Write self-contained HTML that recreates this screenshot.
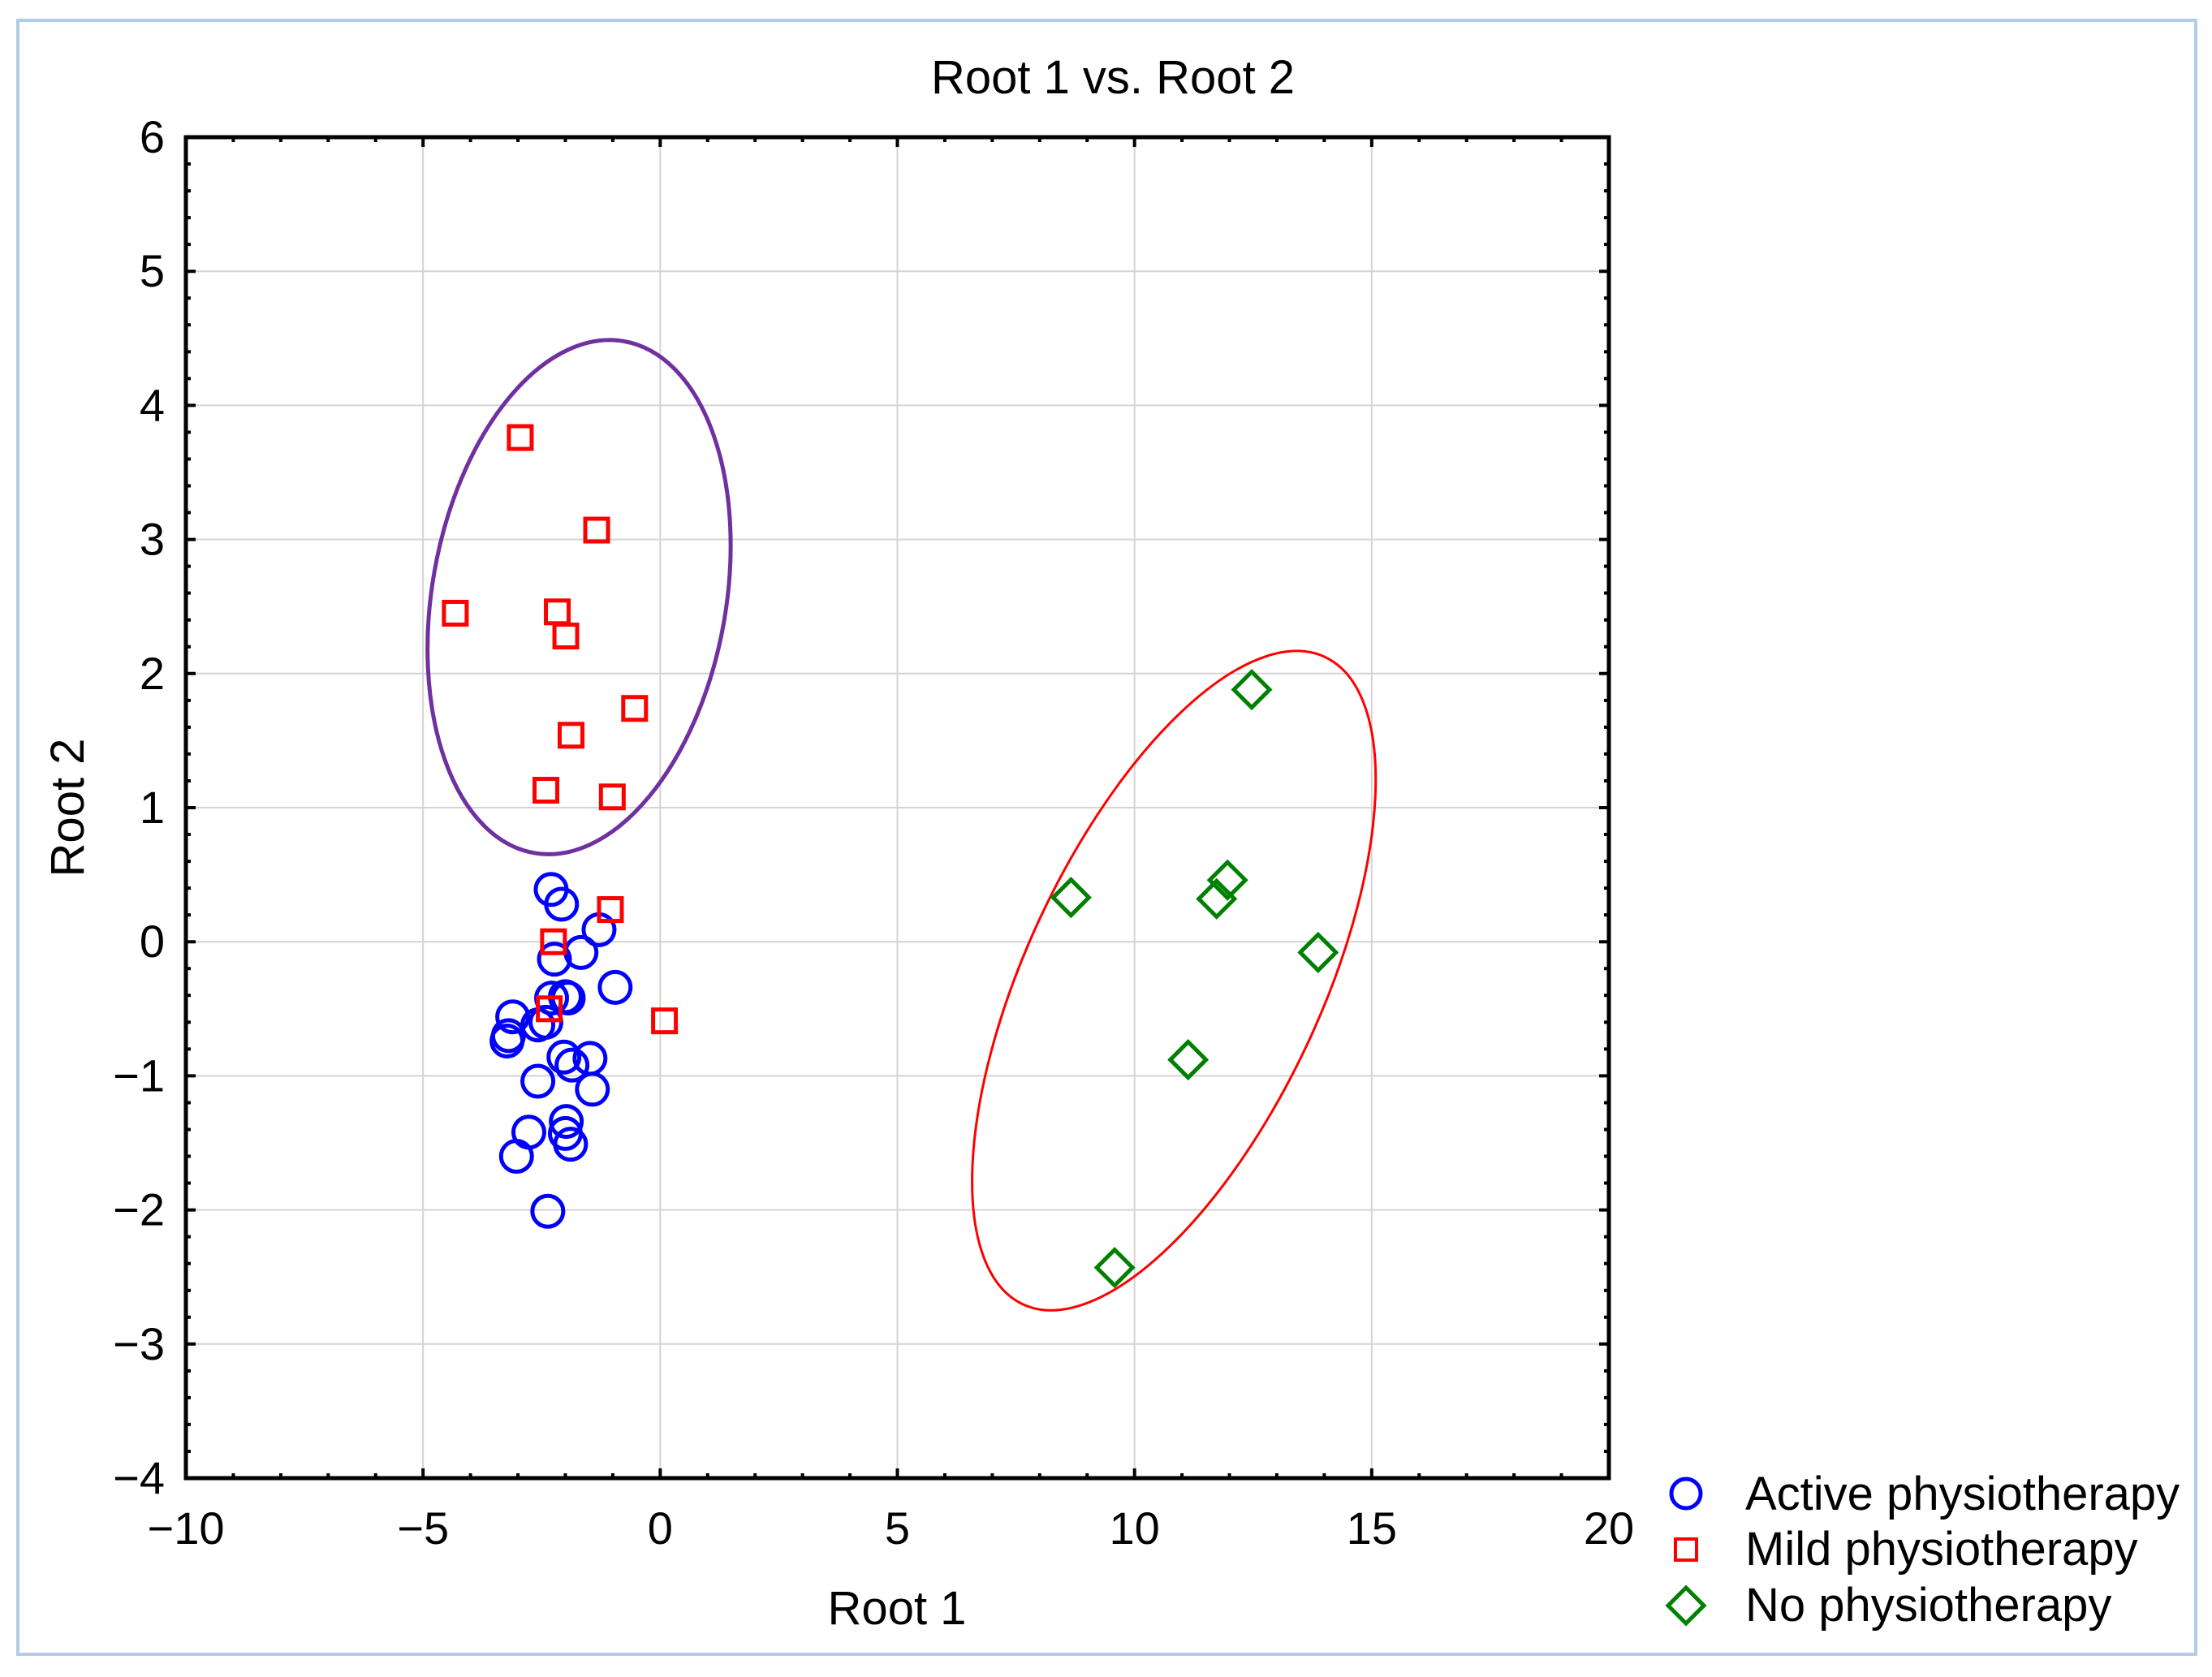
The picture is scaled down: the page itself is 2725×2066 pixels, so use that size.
<!DOCTYPE html>
<html><head><meta charset="utf-8"><style>
html,body{margin:0;padding:0;background:#fff;}
svg{display:block;font-family:"Liberation Sans",sans-serif;}
</style></head><body>
<svg id="chart" width="2725" height="2066" viewBox="0 0 2725 2066" xmlns="http://www.w3.org/2000/svg">
<rect x="22" y="25" width="2683" height="2013" fill="#fff" stroke="#b4cbe8" stroke-width="4"/>
<g id="grid"></g>
<g id="ellipses"></g>
<g id="marks"></g>
<g id="axes"></g>
<text x="1371" y="115" font-size="58" text-anchor="middle" fill="#000">Root 1 vs. Root 2</text>
<text x="1105" y="2001" font-size="58" text-anchor="middle" fill="#000">Root 1</text>
<text x="103" y="995" font-size="58" text-anchor="middle" fill="#000" transform="rotate(-90 103 995)">Root 2</text>
<g font-size="58" fill="#000">
<circle cx="2077" cy="1840" r="18" fill="none" stroke="#0000ff" stroke-width="5"/>
<text x="2150" y="1860">Active physiotherapy</text>
<rect x="2064" y="1896" width="26" height="26" fill="none" stroke="#ff0000" stroke-width="4"/>
<text x="2150" y="1928">Mild physiotherapy</text>
<path d="M2077 1956 L2099 1978 L2077 2000 L2055 1978 Z" fill="none" stroke="#008000" stroke-width="5"/>
<text x="2150" y="1997">No physiotherapy</text>
</g>
</svg>
<script>
const xTicks = [-10,-5,0,5,10,15,20];
const yTicks = [-4,-3,-2,-1,0,1,2,3,4,5,6];
const activeX = [-2.30,-2.08,-1.29,-1.67,-2.23,-0.95,-2.29,-2.00,-1.94,-3.11,-2.41,-2.58,-3.20,-3.23,-2.03,-1.48,-1.86,-2.58,-1.43,-1.98,-2.77,-2.00,-1.89,-3.03,-2.37];
const activeY = [0.39,0.28,0.09,-0.08,-0.13,-0.34,-0.42,-0.41,-0.42,-0.56,-0.60,-0.62,-0.70,-0.74,-0.86,-0.87,-0.92,-1.04,-1.10,-1.34,-1.42,-1.43,-1.51,-1.60,-2.01];
const mildX = [-2.95,-1.34,-4.32,-2.17,-1.99,-0.54,-1.88,-2.41,-1.01,-1.05,-2.25,-2.34,0.09];
const mildY = [3.76,3.07,2.45,2.46,2.28,1.74,1.54,1.13,1.08,0.24,0.00,-0.50,-0.59];
const noneX = [8.66,11.96,11.73,12.47,13.87,11.13,9.58];
const noneY = [0.33,0.46,0.32,1.88,-0.08,-0.88,-2.43];
const ellipseCX = [-1.71,10.83];
const ellipseCY = [2.57,-0.29];

const L=229,R=1982,T=169,B=1821;
const sx=v=>L+(v+10)/30*(R-L);
const sy=v=>B-(v+4)/10*(B-T);
const NS='http://www.w3.org/2000/svg';
function mk(tag,attrs,parent){const e=document.createElementNS(NS,tag);for(const k in attrs)e.setAttribute(k,attrs[k]);parent.appendChild(e);return e;}
const grid=document.getElementById('grid'),axes=document.getElementById('axes'),marks=document.getElementById('marks'),ell=document.getElementById('ellipses');
xTicks.forEach(t=>{
  if(t>-10&&t<20){const g=mk('line',{x1:sx(t),x2:sx(t),y1:T,y2:B,stroke:'#d4d4d4','stroke-width':2},grid);
  
  }
  const lb=mk('text',{x:sx(t),y:1902,'font-size':56,'text-anchor':'middle',fill:'#000'},axes);
  lb.textContent=String(t).replace('-','\u2212');
  
  
});
yTicks.forEach(t=>{
  if(t>-4&&t<6){const g=mk('line',{x1:L,x2:R,y1:sy(t),y2:sy(t),stroke:'#d4d4d4','stroke-width':2},grid);
  
  }
  const lb=mk('text',{x:203,y:sy(t)+19,'font-size':56,'text-anchor':'end',fill:'#000'},axes);
  lb.textContent=String(t).replace('-','\u2212');
  
  
});
let td='';
for(let v=-10;v<=20;v++){const len=(v%5===0)?12:6;td+=`M${sx(v)} ${B}v${-len}M${sx(v)} ${T}v${len}`;}
for(let i=0;i<=50;i++){const v=-4+i*0.2;const len=(i%5===0)?12:6;td+=`M${L} ${sy(v)}h${len}M${R} ${sy(v)}h${-len}`;}
const tk=mk('path',{d:td,stroke:'#000','stroke-width':4,fill:'none'},axes);


const fr=mk('rect',{x:L,y:T,width:R-L,height:B-T,fill:'none',stroke:'#000','stroke-width':5},axes);


const ellStyle=[{a:320,b:181,rot:10,c:'#7030a0',w:5},{a:440,b:182,rot:25,c:'#ff0000',w:3}];
ellipseCX.forEach((cx,i)=>{
  const X=sx(cx),Y=sy(ellipseCY[i]),s=ellStyle[i];
  const e=mk('ellipse',{cx:X,cy:Y,rx:s.b,ry:s.a,transform:`rotate(${s.rot} ${X} ${Y})`,fill:'none',stroke:s.c,'stroke-width':s.w},ell);
  
  
});
activeX.forEach((x,i)=>{
  const c=mk('circle',{cx:sx(x),cy:sy(activeY[i]),r:19,fill:'none',stroke:'#0000ff','stroke-width':5},marks);
  
  
});
mildX.forEach((x,i)=>{
  const r=mk('rect',{x:sx(x)-14,y:sy(mildY[i])-14,width:28,height:28,fill:'none',stroke:'#ff0000','stroke-width':5},marks);
  
  
});
noneX.forEach((x,i)=>{
  const X=sx(x),Y=sy(noneY[i]);
  const p=mk('path',{d:`M${X} ${Y-22}L${X+22} ${Y}L${X} ${Y+22}L${X-22} ${Y}Z`,fill:'none',stroke:'#008000','stroke-width':5},marks);
  
  
});
</script>
</body></html>
